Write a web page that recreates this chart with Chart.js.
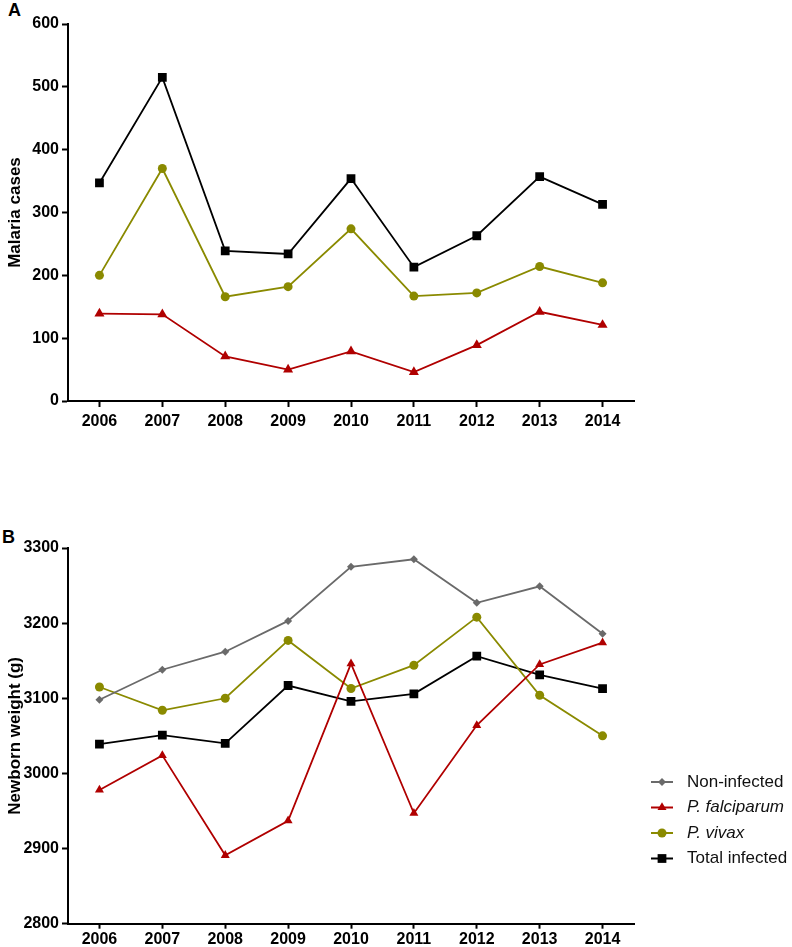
<!DOCTYPE html>
<html>
<head>
<meta charset="utf-8">
<script src="https://cdn.jsdelivr.net/npm/chart.js@4/dist/chart.umd.min.js"></script>
<style>
  body { margin: 0; background: #fff; width: 792px; height: 947px; position: relative; overflow: hidden; }
  canvas { position: absolute; left: 0; }
  #chartA { top: 0; }
  #chartB { top: 470px; }
  .panel { position: absolute; font: bold 18px "Liberation Sans", Arial, sans-serif; line-height: 18px; color: #000; }
</style>
</head>
<body>
<div class="panel" style="left:8px; top:1px;">A</div>
<div class="panel" style="left:2px; top:528px;">B</div>
<canvas id="chartA" width="792" height="445"></canvas>
<canvas id="chartB" width="792" height="477"></canvas>
<script>
// dane
var lata = ["2006", "2007", "2008", "2009", "2010", "2011", "2012", "2013", "2014"];

// A - przypadki malarii
var przypadkiRazem = [347, 515, 239, 234, 354, 213, 263, 357, 313];
var przypadkiVivax = [200, 370, 166, 182, 274, 167, 172, 214, 188];
var przypadkiFalciparum = [139, 138, 71, 50, 79, 46, 89, 142, 121];

// B - waga noworodka
var wagaNiezakazone = [3098, 3138, 3162, 3203, 3275, 3285, 3227, 3249, 3186];
var wagaFalciparum = [2978, 3024, 2891, 2937, 3146, 2947, 3064, 3145, 3174];
var wagaVivax = [3115, 3084, 3100, 3177, 3113, 3144, 3208, 3104, 3050];
var wagaRazem = [3039, 3051, 3040, 3117, 3096, 3106, 3156, 3131, 3113];

var etykiety = ["Non-infected", "P. falciparum", "P. vivax", "Total infected"];
var kursywa = [false, true, true, false];

var czcionka = '"Liberation Sans", Arial, sans-serif';
var czarny = '#000000';
var czerwony = '#b00000';
var oliwka = '#8a8a00';
var szary = '#6a6a6a';

function seria(label, dane, kolor, styl, r) {
	return {
		label: label,
		data: dane,
		borderColor: kolor,
		backgroundColor: kolor,
		borderWidth: 1.8,
		tension: 0,
		fill: false,
		pointStyle: styl,
		pointRadius: r,
		pointBorderWidth: 0,
		pointBackgroundColor: kolor,
		pointBorderColor: kolor
	};
}

function osX(dlugosc, odstep, wysokosc) {
	return {
		type: 'category',
		offset: true,
		border: { color: czarny, width: 2 },
		grid: { display: true, drawOnChartArea: false, drawTicks: true, tickLength: dlugosc, tickWidth: 2, tickColor: czarny, offset: false },
		ticks: { color: czarny, font: { family: czcionka, size: 16, weight: 'bold' }, padding: odstep, maxRotation: 0, autoSkip: false },
		afterFit: function(s) { s.height = wysokosc; }
	};
}

function osY(min, max, tytul) {
	return {
		min: min,
		max: max,
		border: { color: czarny, width: 2 },
		grid: { display: true, drawOnChartArea: false, drawTicks: true, tickLength: 6, tickWidth: 2, tickColor: czarny },
		ticks: {
			stepSize: 100, color: czarny, font: { family: czcionka, size: 16, weight: 'bold' }, padding: 3,
			callback: function(v) { return String(v); }
		},
		title: { display: true, text: tytul, color: czarny, font: { family: czcionka, size: 17, weight: 'bold' }, padding: { top: 5, bottom: 0 } },
		afterFit: function(s) { s.width = 68; }
	};
}

// legenda rysowana obok wykresu B
var legendaBoku = {
	id: 'legendaBoku',
	afterDraw: function(chart) {
		var ctx = chart.ctx;
		var x0 = chart.chartArea.right + 17;
		var y0 = 312;
		chart.data.datasets.forEach(function(ds, i) {
			var y = y0 + i * 25.5;
			ctx.save();
			ctx.strokeStyle = ds.borderColor;
			ctx.lineWidth = 2;
			ctx.beginPath();
			ctx.moveTo(x0, y);
			ctx.lineTo(x0 + 22, y);
			ctx.stroke();
			ctx.fillStyle = ds.pointBackgroundColor;
			ctx.strokeStyle = ds.pointBorderColor;
			Chart.helpers.drawPoint(ctx, { pointStyle: ds.pointStyle, radius: ds.pointRadius, borderWidth: 0, rotation: 0 }, x0 + 11, y);
			ctx.fillStyle = '#111111';
			ctx.textBaseline = 'middle';
			ctx.textAlign = 'left';
			ctx.font = (kursywa[i] ? 'italic ' : '') + '17px ' + czcionka;
			ctx.fillText(ds.label, x0 + 36, y);
			ctx.restore();
		});
	}
};

var wykresA = new Chart(document.getElementById('chartA'), {
	type: 'line',
	data: {
		labels: lata,
		datasets: [
			seria("P. falciparum", przypadkiFalciparum, czerwony, 'triangle', 5.8),
			seria("P. vivax", przypadkiVivax, oliwka, 'circle', 4.5),
			seria("Total infected", przypadkiRazem, czarny, 'rect', 6.2)
		]
	},
	options: {
		responsive: false,
		animation: false,
		layout: { padding: { top: 24, right: 158, bottom: 0, left: 0 } },
		plugins: { legend: { display: false }, tooltip: { enabled: false } },
		scales: {
			x: osX(6, 5, 44),
			y: osY(0, 600, 'Malaria cases')
		}
	}
});

var wykresB = new Chart(document.getElementById('chartB'), {
	type: 'line',
	data: {
		labels: lata,
		datasets: [
			seria(etykiety[0], wagaNiezakazone, szary, 'rectRot', 4),
			seria(etykiety[1], wagaFalciparum, czerwony, 'triangle', 5.2),
			seria(etykiety[2], wagaVivax, oliwka, 'circle', 4.5),
			seria(etykiety[3], wagaRazem, czarny, 'rect', 6.2)
		]
	},
	options: {
		responsive: false,
		animation: false,
		layout: { padding: { top: 78, right: 158, bottom: 0, left: 0 } },
		plugins: { legend: { display: false }, tooltip: { enabled: false } },
		scales: {
			x: osX(5, 1, 23.3),
			y: osY(2800, 3300, 'Newborn weight (g)')
		}
	},
	plugins: [legendaBoku]
});
</script>
</body>
</html>
